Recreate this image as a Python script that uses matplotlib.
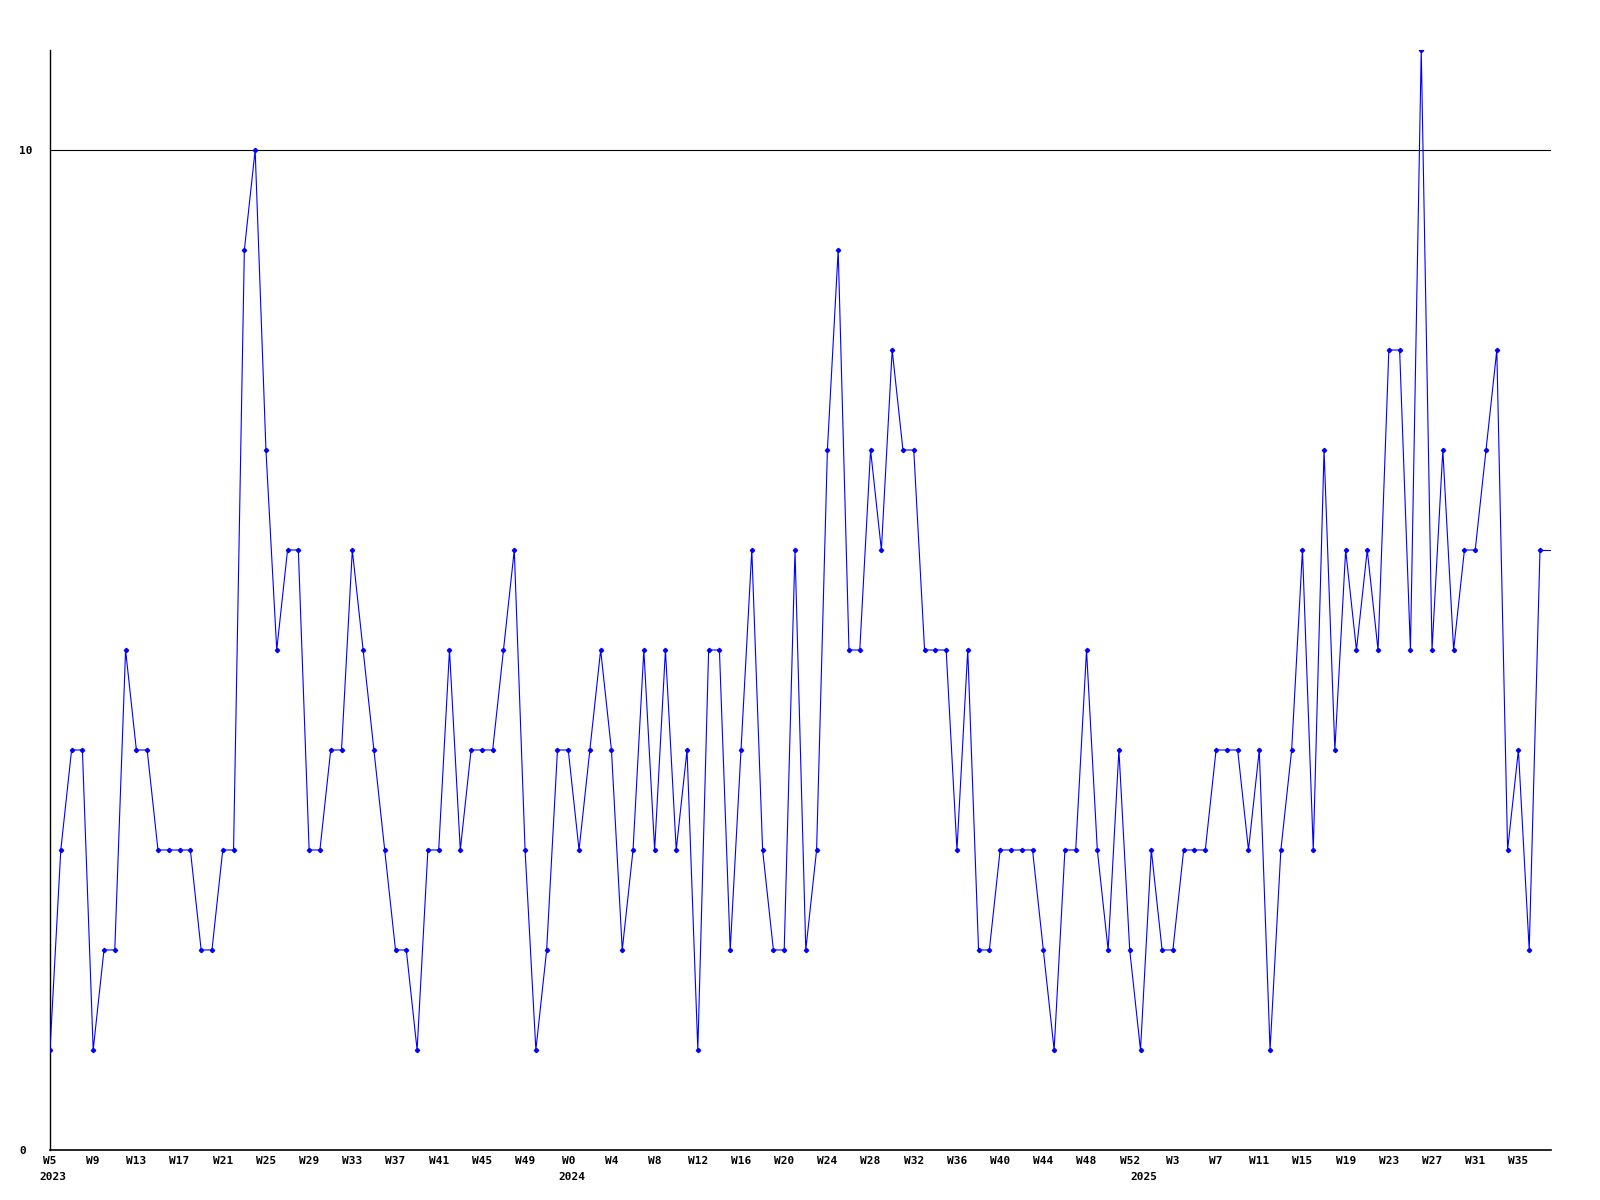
import matplotlib
matplotlib.use("Agg")
import matplotlib.pyplot as plt
import matplotlib.transforms as mtransforms

# weekly counts, 2023 W5 .. 2025 W36
counts = [1, 3, 4, 4, 1, 2, 2, 5, 4, 4, 3, 3, 3, 3, 2, 2, 3, 3, 9, 10,
          7, 5, 6, 6, 3, 3, 4, 4, 6, 5, 4, 3, 2, 2, 1, 3, 3, 5, 3, 4,
          4, 4, 5, 6, 3, 1, 2, 4, 4, 3, 4, 5, 4, 2, 3, 5, 3, 5, 3, 4,
          1, 5, 5, 2, 4, 6, 3, 2, 2, 6, 2, 3, 7, 9, 5, 5, 7, 6, 8, 7,
          7, 5, 5, 5, 3, 5, 2, 2, 3, 3, 3, 3, 2, 1, 3, 3, 5, 3, 2, 4,
          2, 1, 3, 2, 2, 3, 3, 3, 4, 4, 4, 3, 4, 1, 3, 4, 6, 3, 7, 4,
          6, 5, 6, 5, 8, 8, 5, 11, 5, 7, 5, 6, 6, 7, 8, 3, 4, 2, 6, 6]

week_labels = ["W5", "W9", "W13", "W17", "W21", "W25", "W29", "W33", "W37",
               "W41", "W45", "W49",
               "W0", "W4", "W8", "W12", "W16", "W20", "W24", "W28", "W32",
               "W36", "W40", "W44", "W48", "W52",
               "W3", "W7", "W11", "W15", "W19", "W23", "W27", "W31", "W35"]
week_pos = list(range(0, 4 * len(week_labels), 4))

years = ["2023", "2024", "2025"]
year_pos = [0, 48, 101]

font = "DejaVu Sans Mono"

fig = plt.figure(figsize=(16, 12), dpi=100)
ax = fig.add_axes([0.03125, 0.0417, 0.938, 0.9166])

x = list(range(len(counts)))
ax.axhline(10, color="black", lw=0.8, zorder=1)
ax.plot(x[:-1], counts[:-1], color="#0000ff", lw=0.8, marker="D", ms=2.2,
        zorder=3)
ax.plot(x[-2:], counts[-2:], color="#0000ff", lw=0.8, zorder=3)

ax.set_xlim(0, len(counts) - 1)
ax.set_ylim(0, 11)

for s in ["top", "right"]:
    ax.spines[s].set_visible(False)
ax.spines["left"].set_linewidth(1)
ax.spines["bottom"].set_linewidth(1.2)

ax.set_xticks(week_pos)
ax.set_xticklabels(week_labels, fontfamily=font, fontweight="bold", fontsize=8)
ax.tick_params(axis="x", length=0, pad=4.5)

ax.set_yticks([0, 10])
ax.set_yticklabels(["0", "10"], fontfamily=font, fontweight="bold",
                   fontsize=8, ha="left")
ax.tick_params(axis="y", length=0, pad=22)

trans = mtransforms.blended_transform_factory(ax.transData, ax.transAxes)
for yr, p in zip(years, year_pos):
    ax.text(p - 0.95, -0.0245, yr, transform=trans, ha="left", va="center",
            fontfamily=font, fontweight="bold", fontsize=8)

fig.savefig("out.png", dpi=100)
